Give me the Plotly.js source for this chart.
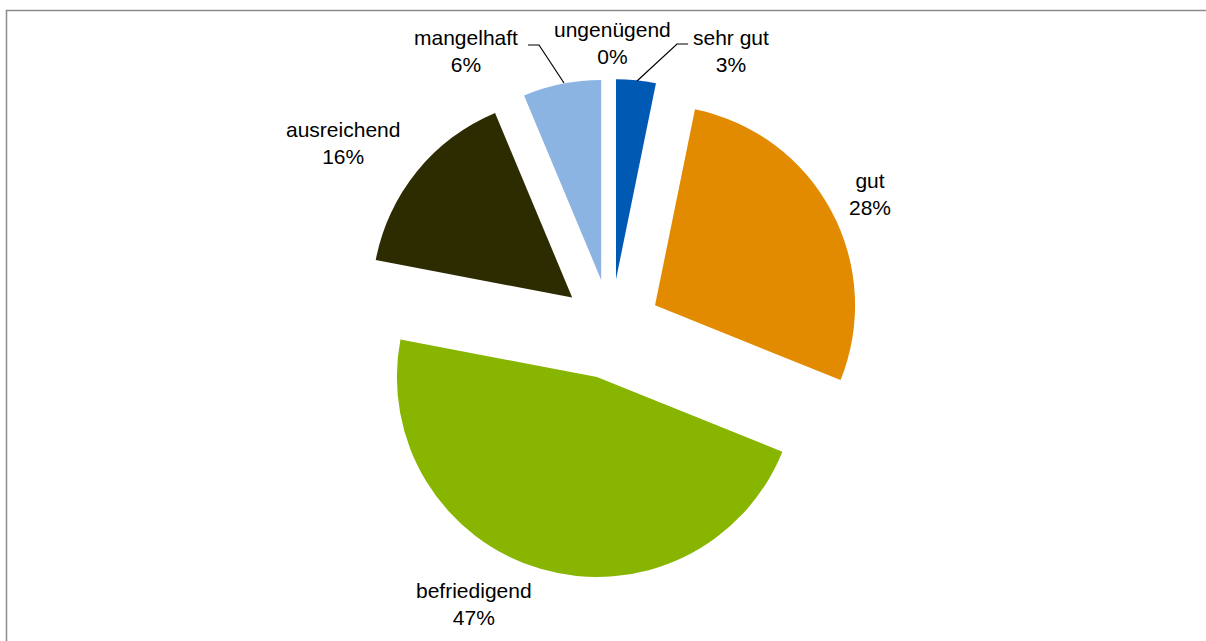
<!DOCTYPE html>
<html>
<head>
<meta charset="utf-8">
<script src="https://cdn.plot.ly/plotly-3.0.1.min.js"></script>
<style>
html,body{margin:0;padding:0;background:#fff;}
#chart{width:1206px;height:641px;}
</style>
</head>
<body>
<div id="chart"></div>
<script>
// Data (percent of responses), clockwise from 12 o'clock
var labels = ["sehr gut", "gut", "befriedigend", "ausreichend", "mangelhaft", "ungenügend"];
var values = [3.2, 27.9, 46.9, 15.7, 6.3, 0];
var colors = ["#0059b3", "#e28a00", "#87b500", "#2d2b00", "#8cb4e2", "#c00000"];

// Layout: label centres in page pixels (layout only, not data)
var labelPos = [[731, 51], [870, 194], [474, 604], [343, 143], [466, 51], [612, 43]];

var L = 100, R = 84, T = 79, B = 62;
var W = 1206 - L - R, H = 641 - T - B;
var FONT = "Liberation Sans, Arial, sans-serif";

var total = values.reduce(function (a, b) { return a + b; }, 0);

var trace = {
  type: "pie",
  labels: labels,
  values: values,
  sort: false,
  direction: "clockwise",
  rotation: 0,
  pull: 0.25,
  marker: {colors: colors, line: {width: 0}},
  textinfo: "none",
  hoverinfo: "label+percent",
  showlegend: false
};

var annotations = labels.map(function (lab, i) {
  return {
    xref: "paper", yref: "paper",
    x: (labelPos[i][0] - L) / W,
    y: 1 - (labelPos[i][1] - T) / H,
    xanchor: "center", yanchor: "middle",
    text: lab + "<br>" + Math.round(values[i] / total * 100) + "%",
    showarrow: false,
    align: "center",
    font: {family: FONT, size: 21, color: "#000"}
  };
});

function pxShape(path) {
  return {
    type: "path",
    xref: "paper", yref: "paper",
    xsizemode: "pixel", ysizemode: "pixel",
    xanchor: 0, yanchor: 1,
    path: path,
    line: {color: "#000", width: 1.2},
    layer: "above"
  };
}
// convert page pixel to shape-pixel coords (relative to paper x=0, y=1)
function P(x, y) { return (x - L) + " " + (T - y); }

var shapes = [
  {
    type: "rect",
    xref: "paper", yref: "paper",
    xsizemode: "pixel", ysizemode: "pixel",
    xanchor: 0, yanchor: 1,
    x0: 6.5 - L, x1: 1216 - L,
    y0: -(641 - T) - 20, y1: T - 10.5,
    line: {color: "#8c8c8c", width: 1.5},
    fillcolor: "rgba(0,0,0,0)",
    layer: "below"
  },
  // leader line for "sehr gut"
  pxShape("M " + P(688, 44) + " L " + P(677, 44) + " L " + P(637, 81)),
  // leader line for "mangelhaft"
  pxShape("M " + P(528, 45) + " L " + P(539, 45) + " L " + P(564, 83))
];

var layout = {
  width: 1206,
  height: 641,
  margin: {l: L, r: R, t: T, b: B, pad: 0},
  paper_bgcolor: "#ffffff",
  plot_bgcolor: "#ffffff",
  showlegend: false,
  font: {family: FONT, size: 21, color: "#000"},
  annotations: annotations,
  shapes: shapes
};

Plotly.newPlot("chart", [trace], layout, {displayModeBar: false, staticPlot: true});
</script>
</body>
</html>
